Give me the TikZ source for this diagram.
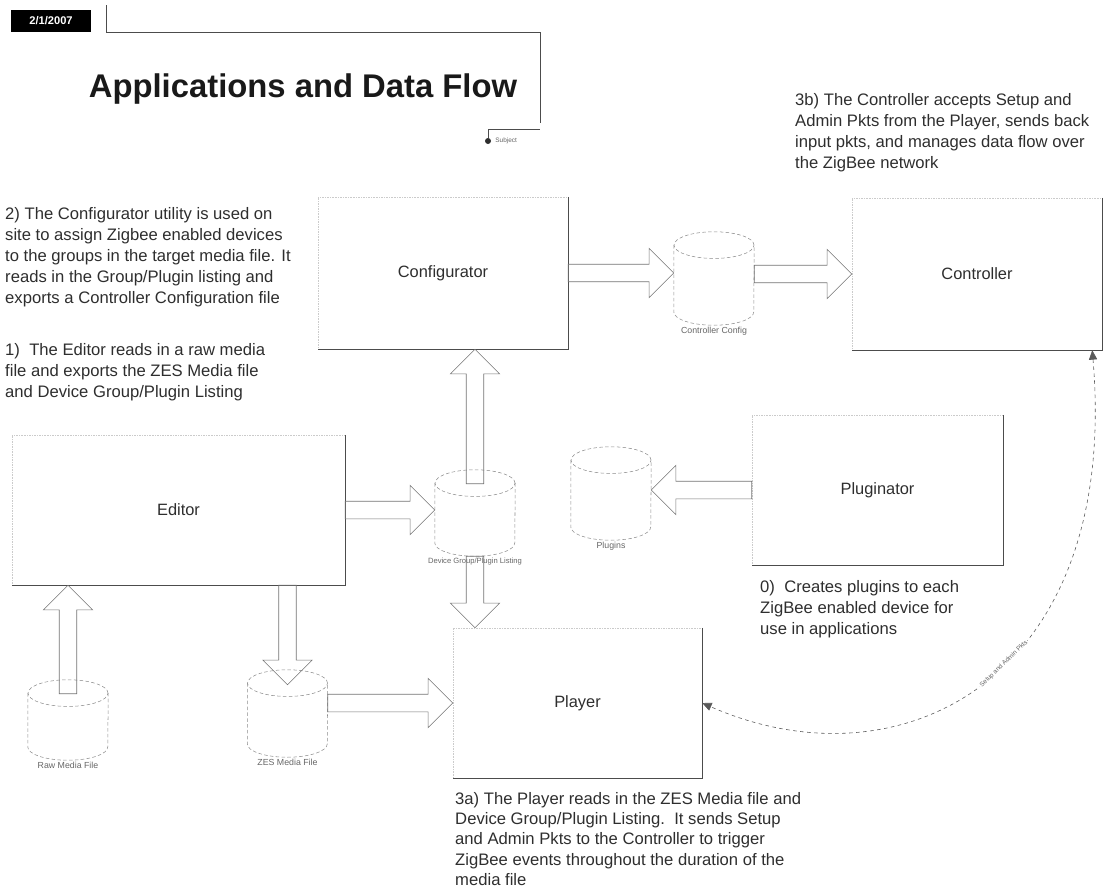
\documentclass[tikz,border=0pt]{standalone}
\usepackage{fontspec}
\setmainfont{Liberation Sans}
\usetikzlibrary{arrows.meta,positioning,calc}
\definecolor{scangray}{HTML}{8C8C8C}
\definecolor{inkgray}{HTML}{2E2E2E}
\begin{document}
\begin{tikzpicture}[x=0.03cm,y=-0.03cm,
      box/.style={draw=scangray!45,densely dotted,line width=0.4pt,minimum height=4.5cm,
        inner sep=0pt,font=\fontsize{14}{16}\selectfont,text=inkgray},
      edgeline/.style={draw=black!70,line width=0.6pt},
      cyl/.style={inner sep=0pt,minimum width=2.4cm},
      cylline/.style={draw=scangray,densely dashed,line width=0.45pt},
      cyllbl/.style={font=\fontsize{7.5}{8}\selectfont,text=black!60,inner sep=1pt},
      note/.style={font=\fontsize{14.2}{17.9}\selectfont,align=left,inner sep=0pt,
        text=inkgray,anchor=north west},
      datebox/.style={fill=black,text=white,font=\bfseries\fontsize{9.5}{11}\selectfont,
        minimum width=2.4cm,minimum height=0.66cm,inner sep=0pt},
      rulegray/.style={draw=black!70,line width=0.6pt},
      blockarr/.style={draw=black!55,line width=0.5pt,to path={
        ($(\tikztotarget)!21pt!(\tikztostart)$) coordinate (hb)
        ($(\tikztostart)!7.5pt!90:(\tikztotarget)$) -- ($(hb)!7.5pt!90:(\tikztotarget)$)
        -- ($(hb)!21pt!90:(\tikztotarget)$) -- (\tikztotarget)
        -- ($(hb)!21pt!-90:(\tikztotarget)$) -- ($(hb)!7.5pt!-90:(\tikztotarget)$)
        -- ($(\tikztostart)!7.5pt!-90:(\tikztotarget)$) -- cycle}},
      linkarr/.style={draw=black!65,dashed,line width=0.5pt,
        {Triangle[length=8pt,width=7pt]}-{Triangle[length=8pt,width=7pt]}},
      tinylbl/.style={font=\fontsize{5.5}{6}\selectfont,text=black!60,inner sep=1pt}]
    \useasboundingbox (0,0) rectangle (1111,890);

    % header
    \node[datebox] (date) at (51,21) {2/1/2007};
    \draw[rulegray] (106,5) -- (106,32) -- (540,32) -- (540,123);
    \draw[rulegray] (488,138) -- (488,129) -- (540,129);
    \fill[inkgray] (488,141) circle (3);
    \node[tinylbl,anchor=west] (subj) at (494,141) {Subject};
    \node[font=\bfseries\fontsize{28}{32}\selectfont,text=black!90] (title) at (303,89)
      {Applications and Data Flow};

    % applications
    \node[box,minimum width=7.5cm,minimum height=4.56cm] (config) at (443,273) {Configurator};
    \node[box,minimum width=7.5cm,minimum height=4.56cm] (ctrl) at (977,274) {Controller};
    \node[box,minimum width=9.99cm] (editor) at (178.5,510) {Editor};
    \node[box,minimum width=7.53cm] (plug) at (877.5,490) {Pluginator};
    \node[box,minimum width=7.47cm] (player) at (577.5,703) {Player};
    \foreach \b in {config,ctrl,editor,plug,player}
      \draw[edgeline] (\b.north east) -- (\b.south east) -- (\b.south west);

    % data files
    \node[cyl,minimum height=2.79cm,label={[cyllbl]below:Controller Config}] (cc) at (714,278.5) {};
    \node[cyl,minimum height=2.58cm,
      label={[cyllbl,font=\fontsize{6.5}{7}\selectfont]below:Device Group/Plugin Listing}] (listing) at (475,513) {};
    \node[cyl,minimum height=2.79cm,label={[cyllbl]below:Plugins}] (plugins) at (611,493.5) {};
    \node[cyl,minimum height=2.4cm,label={[cyllbl]below:Raw Media File}] (raw) at (68,720) {};
    \node[cyl,minimum height=2.61cm,label={[cyllbl]below:ZES Media File}] (zes) at (287.5,713.5) {};
    \foreach \c in {cc,listing,plugins,raw,zes} {
      \draw[cylline] ([yshift=-0.4cm]\c.north) ellipse [x radius=1.2cm,y radius=0.4cm];
      \draw[cylline] ([yshift=-0.4cm]\c.north west) -- ([yshift=0.4cm]\c.south west)
        arc [start angle=180,end angle=360,x radius=1.2cm,y radius=0.4cm]
        -- ([yshift=-0.4cm]\c.north east);
    }

    % arrow ends
    \coordinate (rawtop) at ([yshift=-0.42cm]raw.north);
    \coordinate (edin) at (rawtop |- editor.south);
    \coordinate (zesin) at ([yshift=-0.45cm]zes.north);
    \coordinate (edout) at (zesin |- editor.south);
    \coordinate (zesout) at (zes.east |- player.west);
    \coordinate (lstin) at (listing.west |- editor.east);
    \coordinate (lsttop) at ([yshift=-0.42cm]listing.north);
    \coordinate (cfgin) at (lsttop |- config.south);
    \coordinate (plyin) at (listing.south |- player.north);
    \coordinate (ccin) at (cc.west |- config.east);
    \coordinate (ccout) at (cc.east |- ctrl.west);
    \coordinate (plgin) at (plugins.east |- plug.west);
    \coordinate (ctrlfoot) at ([xshift=-0.3cm]ctrl.south east);

    % data flow
    \draw[blockarr] (rawtop) to (edin);
    \draw[blockarr] (edout) to (zesin);
    \draw[blockarr] (zesout) to (player.west);
    \draw[blockarr] (editor.east) to (lstin);
    \draw[blockarr] (lsttop) to (cfgin);
    \draw[blockarr] (listing.south) to (plyin);
    \draw[blockarr] (config.east) to (ccin);
    \draw[blockarr] (ccout) to (ctrl.west);
    \draw[blockarr] (plug.west) to (plgin);
    \draw[linkarr] (ctrlfoot) .. controls (1120,680) and (900,790) .. (player.east)
      node[pos=0.45,sloped,tinylbl,fill=white] {Setup and Admin Pkts};

    % notes
    \node[note] (noteCtrl) at (795,93) {3b) The Controller accepts Setup and\\Admin Pkts from the Player, sends back\\input pkts, and manages data flow over\\the ZigBee network};
    \node[note] (noteCfg) at (5,207) {2) The Configurator utility is used on\\site to assign Zigbee enabled devices\\to the groups in the target media file. It\\reads in the Group/Plugin listing and\\exports a Controller Configuration file};
    \node[note] (noteEd) at (5,343) {1)\ \ The Editor reads in a raw media\\file and exports the ZES Media file\\and Device Group/Plugin Listing};
    \node[note] (notePlug) at (760,580) {0)\ \ Creates plugins to each\\ZigBee enabled device for\\use in applications};
    \node[note,font=\fontsize{14.2}{17.3}\selectfont] (notePly) at (455,792) {3a) The Player reads in the ZES Media file and\\Device Group/Plugin Listing.\ \ It sends Setup\\and Admin Pkts to the Controller to trigger\\ZigBee events throughout the duration of the\\media file};
  \end{tikzpicture}
\end{document}
